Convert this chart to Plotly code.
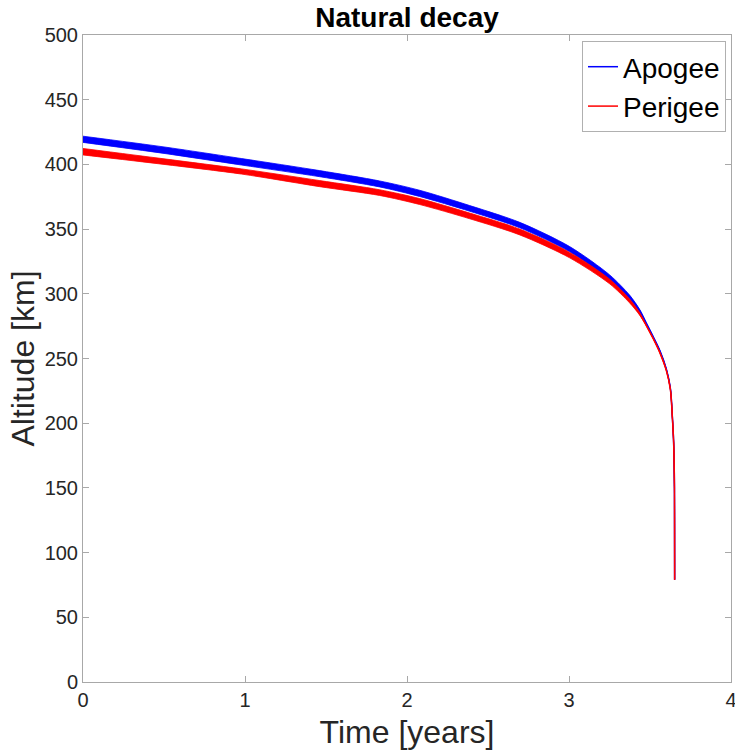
import plotly.graph_objects as go

# Time [years]
time_years = [0.0, 0.5, 0.98, 1.461, 1.831, 2.078, 2.387, 2.696, 3.004, 3.251,
              3.374, 3.436, 3.478, 3.52, 3.56, 3.601, 3.626, 3.638, 3.646, 3.651, 3.652]
# Apogee band (upper / lower envelope of the orbital oscillation), km
apogee_upper = [421.8, 413.5, 404.5, 395.2, 387.2, 380.0, 368.2, 355.2, 336.5, 314.6,
                299.0, 288.0, 277.5, 267.0, 256.5, 242.0, 227.0, 205.0, 185.0, 150.0, 79.0]
apogee_lower = [417.0, 408.5, 399.5, 390.5, 382.6, 375.2, 363.8, 351.0, 332.5, 310.8,
                296.0, 286.0, 276.5, 266.4, 256.0, 241.6, 226.6, 205.0, 185.0, 150.0, 79.0]
# Perigee band, km
perigee_upper = [412.3, 404.3, 396.5, 387.5, 380.4, 373.6, 362.4, 350.0, 332.0, 311.3,
                 296.0, 285.5, 275.5, 265.6, 255.0, 240.8, 226.0, 204.5, 185.0, 150.0, 79.0]
perigee_lower = [407.3, 400.0, 392.5, 382.8, 376.0, 369.0, 358.0, 345.5, 327.8, 307.7,
                 293.0, 283.5, 275.0, 265.0, 254.5, 240.5, 225.8, 204.5, 185.0, 150.0, 79.0]

series = [
    ("Apogee", "#0000ff", apogee_upper, apogee_lower),
    ("Perigee", "#ff0000", perigee_upper, perigee_lower),
]

FONT = "Liberation Sans, Arial, Helvetica, sans-serif"
fig = go.Figure()
for name, color, up, lo in series:
    fig.add_trace(go.Scatter(x=time_years, y=up, mode="lines",
                             line=dict(color=color, width=0.8, shape="spline", smoothing=0.8),
                             showlegend=False, hoverinfo="skip"))
    fig.add_trace(go.Scatter(x=time_years, y=lo, mode="lines",
                             line=dict(color=color, width=0.8, shape="spline", smoothing=0.8),
                             fill="tonexty", fillcolor=color,
                             showlegend=False, hoverinfo="skip"))
    mid = [(a + b) / 2 for a, b in zip(up, lo)]
    fig.add_trace(go.Scatter(x=time_years, y=mid, mode="lines", name=name,
                             line=dict(color=color, width=1.5, shape="spline", smoothing=0.8)))

axis_common = dict(
    showline=True, linecolor="#a8a8a8", linewidth=1, mirror="ticks",
    ticks="inside", ticklen=6, tickcolor="#a8a8a8", tickwidth=1,
    showgrid=False, zeroline=False, automargin=False, ticklabeloverflow="allow",
    tickfont=dict(family=FONT, size=20, color="#262626"),
)

fig.update_layout(
    width=735, height=750,
    margin=dict(l=83, r=4, t=35, b=68, autoexpand=False),
    paper_bgcolor="white", plot_bgcolor="white",
    font=dict(family=FONT, color="#262626"),
    title=dict(text="<b>Natural decay</b>", font=dict(family=FONT, size=28, color="black"),
               x=0.5, xref="paper", xanchor="center",
               y=1 - 17 / 750, yref="container", yanchor="middle"),
    xaxis=dict(range=[0, 4], dtick=1, tick0=0,
               title=dict(text="Time [years]", font=dict(family=FONT, size=32, color="#262626"),
                          standoff=10),
               **axis_common),
    yaxis=dict(range=[0, 500], dtick=50, tick0=0,
               title=dict(text="Altitude [km]", font=dict(family=FONT, size=32, color="#262626"),
                          standoff=0),
               **axis_common),
    legend=dict(x=(726 - 83) / 648, xanchor="right", y=(682.3 - 41) / 647.3, yanchor="top",
                bgcolor="white", bordercolor="#b0b0b0", borderwidth=1,
                font=dict(family=FONT, size=28, color="black"),
                traceorder="normal", tracegroupgap=0, itemwidth=30),
    showlegend=True,
)

fig.write_html("out.html", config={"displayModeBar": False},
               post_script="document.body.style.margin='0';document.body.style.padding='0';")
